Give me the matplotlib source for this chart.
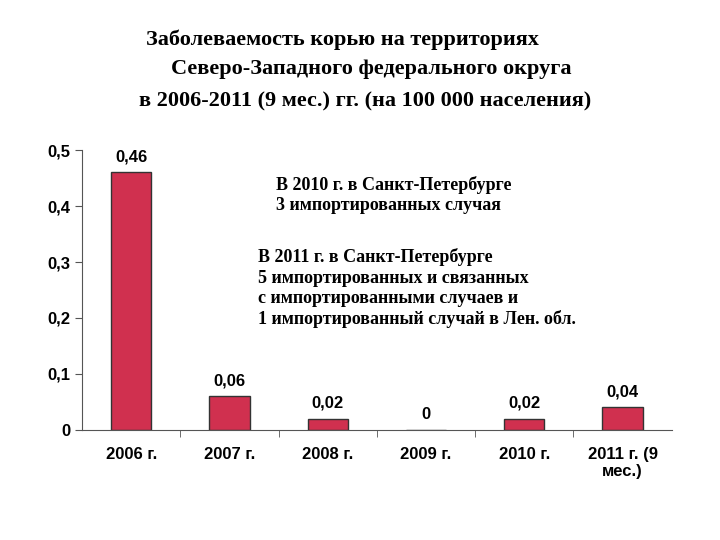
import matplotlib.pyplot as plt
import numpy as np

years = ['2006 г.', '2007 г.', '2008 г.', '2009 г.', '2010 г.', '2011 г. (9\nмес.)']
values = [0.46, 0.06, 0.02, 0.0, 0.02, 0.04]
labels = ['0,46', '0,06', '0,02', '0', '0,02', '0,04']
yticks = [0, 0.1, 0.2, 0.3, 0.4, 0.5]
ytick_labels = ['0', '0,1', '0,2', '0,3', '0,4', '0,5']

fig = plt.figure(figsize=(7.2, 5.4), dpi=100)
ax = fig.add_axes([0.114, 0.204, 0.819, 0.518])

x = np.arange(len(years))
ax.bar(x, values, width=0.41, color='#d0304f', edgecolor='#333333', linewidth=1)
for xi, v, lab in zip(x, values, labels):
    ax.text(xi, v + 0.014, lab, ha='center', va='bottom', fontsize=12, fontweight='bold', family='Liberation Sans')

ax.set_xlim(-0.5, len(years) - 0.5)
ax.set_ylim(0, 0.5)
ax.set_yticks(yticks)
ax.set_yticklabels(ytick_labels, fontsize=12, fontweight='bold', family='Liberation Sans')
ax.set_xticks(x)
ax.set_xticklabels(years, fontsize=12, fontweight='bold', family='Liberation Sans', va='top')
ax.tick_params(axis='x', length=0, pad=12)
ax.set_xticks(np.arange(0.5, len(years) - 0.5, 1), minor=True)
ax.tick_params(axis='x', which='minor', length=5, direction='out', color='#555555')
ax.tick_params(axis='y', length=5, direction='out', color='#555555')
for s in ['top', 'right']:
    ax.spines[s].set_visible(False)
ax.spines['left'].set_color('#555555')
ax.spines['bottom'].set_color('#555555')

tkw = dict(fontsize=16, fontweight='bold', family='Liberation Serif', va='center')
fig.text(0.203, 0.926, 'Заболеваемость корью на территориях', **tkw)
fig.text(0.238, 0.872, 'Северо-Западного федерального округа', **tkw)
fig.text(0.193, 0.812, 'в 2006-2011 (9 мес.) гг. (на 100 000 населения)', **tkw)

fig.text(0.383, 0.675, 'В 2010 г. в Санкт-Петербурге\n3 импортированных случая',
         fontsize=13, fontweight='bold', family='Liberation Serif', va='top', linespacing=1.25)
fig.text(0.358, 0.54, 'В 2011 г. в Санкт-Петербурге\n5 импортированных и связанных\nс импортированными случаев и\n1 импортированный случай в Лен. обл.',
         fontsize=13, fontweight='bold', family='Liberation Serif', va='top', linespacing=1.25)

fig.savefig('out.png', dpi=100)
